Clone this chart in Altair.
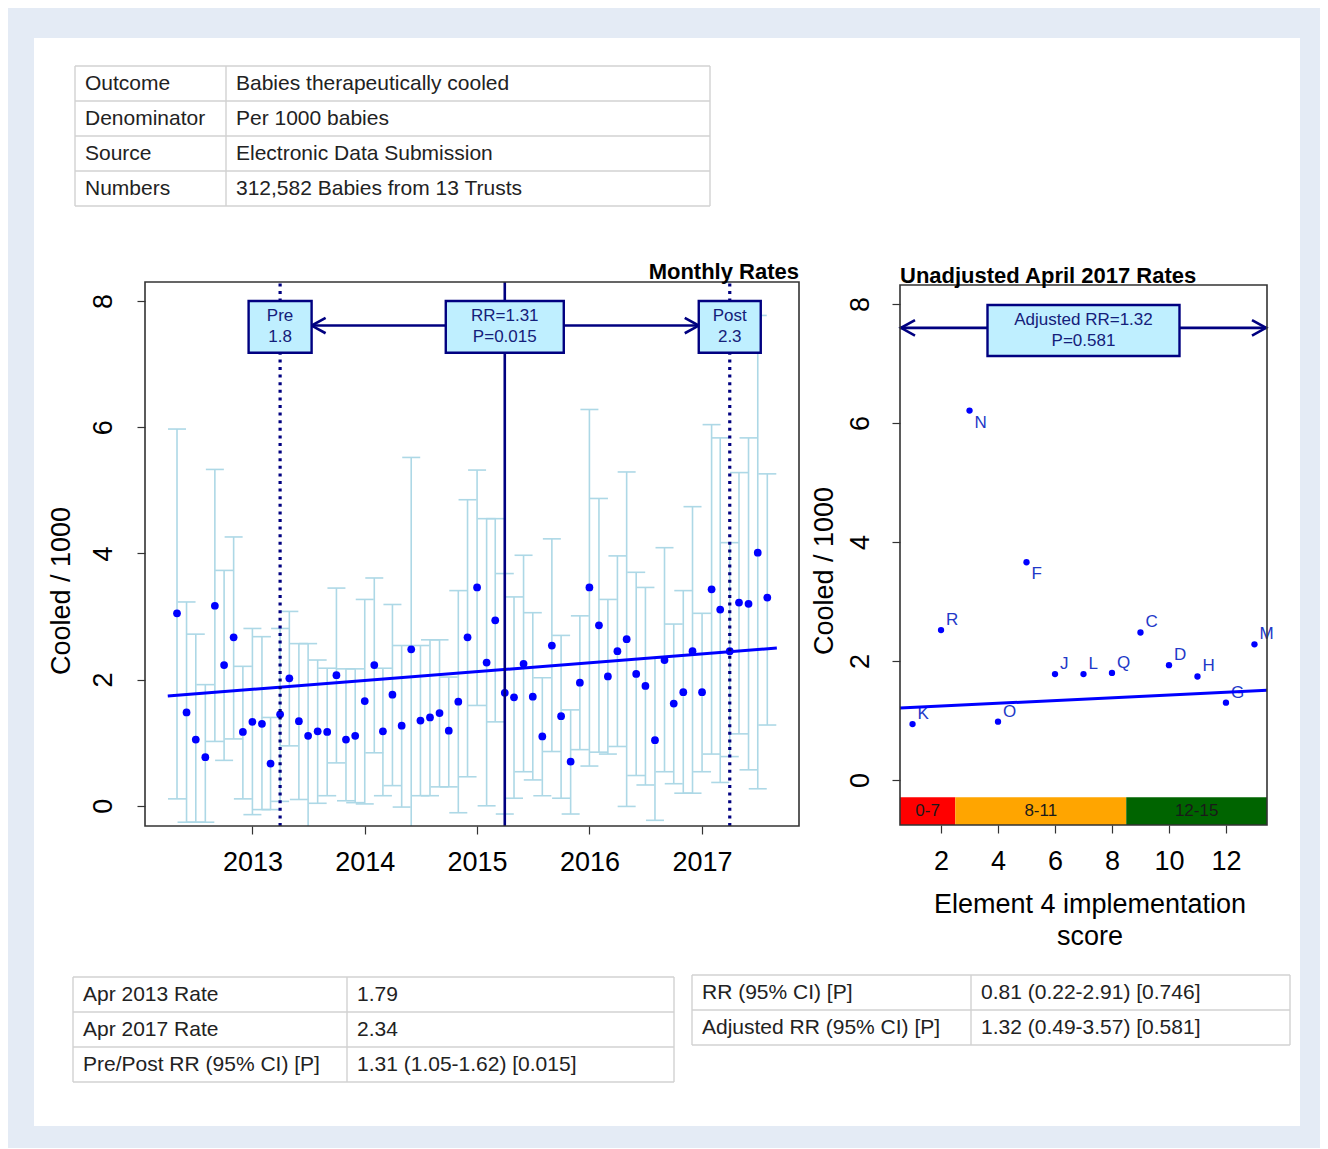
import altair as alt
import pandas as pd

# ---------------- data ----------------
months = []
_y, _m = 2012, 5
for _ in range(64):
    months.append(f"{_y}-{_m:02d}-01")
    _m += 1
    if _m > 12:
        _m, _y = 1, _y + 1

rate = [3.05, 1.48, 1.05, 0.77, 3.17, 2.23, 2.67, 1.17, 1.33, 1.30, 0.67, 1.45,
        2.02, 1.34, 1.11, 1.18, 1.17, 2.07, 1.05, 1.11, 1.66, 2.23, 1.18, 1.76,
        1.27, 2.48, 1.35, 1.40, 1.47, 1.19, 1.65, 2.67, 3.46, 2.27, 2.94, 1.79,
        1.72, 2.25, 1.73, 1.10, 2.54, 1.42, 0.70, 1.95, 3.46, 2.86, 2.05, 2.45,
        2.64, 2.09, 1.90, 1.04, 2.31, 1.62, 1.80, 2.45, 1.80, 3.43, 3.11, 2.45,
        3.22, 3.20, 4.01, 3.30]
upper = [5.97, 3.23, 2.72, 1.92, 5.33, 3.73, 4.26, 2.21, 2.81, 2.68, 1.40, 2.81,
         3.08, 2.57, 2.57, 2.31, 2.18, 3.45, 2.17, 2.17, 3.27, 3.61, 2.18, 3.19,
         2.54, 5.52, 2.54, 2.63, 2.63, 2.04, 3.41, 4.85, 5.32, 4.55, 4.55, 3.68,
         3.31, 3.97, 3.06, 2.03, 4.23, 2.70, 1.52, 3.01, 6.28, 4.87, 3.27, 3.96,
         5.29, 3.70, 3.46, 2.34, 4.09, 2.88, 3.41, 4.74, 3.05, 6.04, 5.83, 4.17,
         5.28, 5.83, 7.77, 5.26]
lower = [0.11, -0.26, -0.26, -0.26, 1.02, 0.72, 1.06, 0.11, -0.14, -0.06, -0.06, 0.07,
         0.95, 0.10, -0.32, 0.04, 0.16, 0.68, 0.08, 0.05, 0.03, 0.84, 0.16, 0.32,
         -0.02, -0.32, 0.16, 0.16, 0.30, 0.30, -0.11, 0.46, 1.59, 0.00, 1.33, -0.13,
         0.12, 0.54, 0.41, 0.16, 0.86, 0.12, -0.13, 0.89, 0.63, 0.85, 0.82, 0.94,
         -0.01, 0.48, 0.33, -0.23, 0.54, 0.35, 0.20, 0.20, 0.54, 0.82, 0.37, 0.78,
         1.14, 0.57, 0.27, 1.28]

trend_dates = ["2012-04-01", "2017-09-01"]
trend_rates = [1.74, 2.50]

event_names = ["Pre", "RR", "Post"]
event_dates = ["2013-04-01", "2015-04-01", "2017-04-01"]
event_text = ["Pre\n1.8", "RR=1.31\nP=0.015", "Post\n2.3"]

score = [1, 2, 3, 4, 5, 6, 7, 8, 9, 10, 11, 12, 13]
trust = ["K", "R", "N", "O", "F", "J", "L", "Q", "C", "D", "H", "G", "M"]
trust_rate = [0.94, 2.52, 6.21, 0.98, 3.66, 1.78, 1.78, 1.80, 2.48, 1.93, 1.74, 1.30, 2.28]
labels_below = ["N", "F"]
score_trend_x = [0.56, 13.44]
score_trend_y = [1.21, 1.51]
adj_text = "Adjusted RR=1.32\nP=0.581"

band_labels = ["0-7", "8-11", "12-15"]
band_from = [0.56, 2.5, 8.5]
band_to = [2.5, 8.5, 13.44]
band_colors = ["#ff0000", "#ffa500", "#006400"]

table_top = [("Outcome", "Babies therapeutically  cooled"),
             ("Denominator", "Per 1000 babies"),
             ("Source", "Electronic Data Submission"),
             ("Numbers", "312,582  Babies from 13 Trusts")]
table_bl = [("Apr 2013 Rate", "1.79"),
            ("Apr 2017 Rate", "2.34"),
            ("Pre/Post RR (95% CI) [P]", "1.31 (1.05-1.62) [0.015]")]
table_br = [("RR  (95% CI) [P]", "0.81 (0.22-2.91) [0.746]"),
            ("Adjusted  RR (95% CI) [P]", "1.32 (0.49-3.57) [0.581]")]

# ---------------- style / layout ----------------
W, H = 1266, 1088
FONT = "Liberation Sans"
NAVY = "#000080"
NAVYTXT = "#14207a"
BOXFILL = "#bfefff"
LB = "#add8e6"
BLUE = "#0000ff"
FRAME = "#333333"
GRID = "#d2d2d2"
TXT = "#222222"
CHEV_L = "M1,-0.55L0,0L1,0.55"
CHEV_R = "M-1,-0.55L0,0L-1,0.55"

L_X = ("2012-01-18", "2017-11-12")
L_Y = (-0.32, 8.30)
R_X = (0.56, 13.44)
R_Y = (-0.756, 8.32)


def dt(s):
    y, m, d = map(int, s.split("-"))
    return alt.DateTime(year=y, month=m, date=d, utc=True)


lx = alt.Scale(type="utc", domain=[dt(L_X[0]), dt(L_X[1])], range=[111, 765], nice=False)
ly = alt.Scale(domain=list(L_Y), range=[788, 244], nice=False, zero=False, clamp=True)
rx = alt.Scale(domain=list(R_X), range=[866, 1233], nice=False, zero=False)
ry = alt.Scale(domain=list(R_Y), range=[787, 247], nice=False, zero=False, clamp=True)

axis_common = dict(domain=False, grid=False, tickSize=8, tickColor=FRAME, tickWidth=1.2,
                   labelFont=FONT, labelFontSize=27, labelColor="black", title=None)
lx_axis = alt.Axis(orient="bottom", offset=-300,
                   values=[alt.DateTime(year=y, month=1, date=1, utc=True) for y in range(2013, 2018)],
                   labelExpr="utcFormat(datum.value, '%Y')", labelPadding=15, **axis_common)
ly_axis = alt.Axis(orient="left", offset=-111, values=[0, 2, 4, 6, 8], labelAngle=270,
                   labelAlign="center", labelBaseline="bottom", labelPadding=20, **axis_common)
rx_axis = alt.Axis(orient="bottom", offset=-301, values=[2, 4, 6, 8, 10, 12],
                   labelPadding=15, **axis_common)
ry_axis = alt.Axis(orient="left", offset=-866, values=[0, 2, 4, 6, 8], labelAngle=270,
                   labelAlign="center", labelBaseline="bottom", labelPadding=18, **axis_common)


def LX(f):
    return alt.X(f, type="temporal", scale=lx, axis=lx_axis)


def LY(f):
    return alt.Y(f, type="quantitative", scale=ly, axis=ly_axis)


def RX(f):
    return alt.X(f, type="quantitative", scale=rx, axis=rx_axis)


def RY(f):
    return alt.Y(f, type="quantitative", scale=ry, axis=ry_axis)


# ---------------- left plot ----------------
ldf = pd.DataFrame({"month": months, "rate": rate, "lo": lower, "hi": upper})

errs = alt.Chart(ldf).mark_rule(color=LB, strokeWidth=1.6).encode(
    x=LX("month"), y=LY("lo"), y2="hi:Q")
cap_hi = alt.Chart(ldf).mark_tick(orient="horizontal", size=18, thickness=1.6, color=LB, opacity=1).encode(
    x=LX("month"), y=LY("hi"))
cap_lo = alt.Chart(ldf).transform_filter("datum.lo > -0.31").mark_tick(
    orient="horizontal", size=18, thickness=1.6, color=LB, opacity=1).encode(
    x=LX("month"), y=LY("lo"))
pts = alt.Chart(ldf).mark_circle(size=60, color=BLUE, opacity=1).encode(
    x=LX("month"), y=LY("rate"))

tdf = pd.DataFrame({"month": trend_dates, "rate": trend_rates})
trend = alt.Chart(tdf).mark_line(color=BLUE, strokeWidth=3).encode(
    x=LX("month"), y=LY("rate"))

edf = pd.DataFrame({"name": event_names, "date": event_dates, "text": event_text,
                    "y0": [L_Y[0]] * 3, "y1": [L_Y[1]] * 3})
dotted = alt.Chart(edf).transform_filter("datum.name != 'RR'").mark_rule(
    color=NAVY, strokeWidth=3.2, strokeDash=[3, 4.6]).encode(
    x=LX("date"), y=LY("y0"), y2="y1:Q")
solid = alt.Chart(edf).transform_filter("datum.name == 'RR'").mark_rule(
    color=NAVY, strokeWidth=2.6).encode(
    x=LX("date"), y=LY("y0"), y2="y1:Q")

adf = pd.DataFrame({"a": [event_dates[0]], "b": [event_dates[2]], "y": [7.61]})
arrow_line = alt.Chart(adf).mark_rule(color=NAVY, strokeWidth=2.6, xOffset=31.5, x2Offset=-31).encode(
    x=LX("a"), x2="b:T", y=LY("y"))
head_l = alt.Chart(adf).mark_point(shape=CHEV_L, size=784, filled=False, stroke=NAVY, strokeWidth=2.6,
                                   opacity=1, xOffset=31.5).encode(x=LX("a"), y=LY("y"))
head_r = alt.Chart(adf).mark_point(shape=CHEV_R, size=784, filled=False, stroke=NAVY, strokeWidth=2.6,
                                   opacity=1, xOffset=-31).encode(x=LX("b"), y=LY("y"))


def event_box(i, half):
    d = edf.iloc[[i]].assign(b0=7.18, b1=8.0, bc=7.59)
    rect = alt.Chart(d).mark_rect(fill=BOXFILL, stroke=NAVY, strokeWidth=2.4,
                                  xOffset=-half, x2Offset=half).encode(
        x=LX("date"), x2="date:T", y=LY("b0"), y2="b1:Q")
    txt = alt.Chart(d).mark_text(lineBreak="\n", lineHeight=21, font=FONT, fontSize=17, dy=-10.5,
                                 color=NAVYTXT, baseline="middle", align="center").encode(
        x=LX("date"), y=LY("bc"), text="text:N")
    return [rect, txt]


lframe_df = pd.DataFrame({"x0": [L_X[0]], "x1": [L_X[1]], "y0": [L_Y[0]], "y1": [L_Y[1]]})
lframe = alt.Chart(lframe_df).mark_rect(filled=False, stroke=FRAME, strokeWidth=1.6).encode(
    x=LX("x0"), x2="x1:T", y=LY("y0"), y2="y1:Q")

left = alt.layer(errs, cap_hi, cap_lo, pts, trend, dotted, solid, arrow_line, head_l, head_r,
                 *event_box(0, 31.5), *event_box(1, 59), *event_box(2, 31), lframe)

# ---------------- right plot ----------------
bdf = pd.DataFrame({"label": band_labels, "x0": band_from, "x1": band_to,
                    "xc": [(a + b) / 2 for a, b in zip(band_from, band_to)],
                    "y0": [R_Y[0]] * 3, "y1": [-0.29] * 3, "yc": [-0.52] * 3})
bands = alt.Chart(bdf).mark_rect().encode(
    x=RX("x0"), x2="x1:Q", y=RY("y0"), y2="y1:Q",
    color=alt.Color("label:N", scale=alt.Scale(domain=band_labels, range=band_colors), legend=None))
band_txt = alt.Chart(bdf).mark_text(font=FONT, fontSize=17, color="#1a1a1a", baseline="middle").encode(
    x=RX("xc"), y=RY("yc"), text="label:N")

rdf = pd.DataFrame({"score": score, "rate": trust_rate, "trust": trust})
rpts = alt.Chart(rdf).mark_circle(size=40, color=BLUE, opacity=1).encode(x=RX("score"), y=RY("rate"))
below_expr = "indexof(" + str(labels_below).replace("'", '"') + ", datum.trust) >= 0"
lab_above = alt.Chart(rdf).transform_filter("!(" + below_expr + ")").mark_text(
    align="left", baseline="middle", dx=5, dy=-10, font=FONT, fontSize=17, color="#2238c8").encode(
    x=RX("score"), y=RY("rate"), text="trust:N")
lab_below = alt.Chart(rdf).transform_filter(below_expr).mark_text(
    align="left", baseline="middle", dx=5, dy=12, font=FONT, fontSize=17, color="#2238c8").encode(
    x=RX("score"), y=RY("rate"), text="trust:N")

rtdf = pd.DataFrame({"score": score_trend_x, "rate": score_trend_y})
rtrend = alt.Chart(rtdf).mark_line(color=BLUE, strokeWidth=3).encode(x=RX("score"), y=RY("rate"))

radf = pd.DataFrame({"a": [R_X[0]], "b": [R_X[1]], "y": [7.60], "c": [7.0],
                     "b0": [7.126], "b1": [7.983], "bc": [7.555], "text": [adj_text]})
r_line = alt.Chart(radf).mark_rule(color=NAVY, strokeWidth=2.6).encode(
    x=RX("a"), x2="b:Q", y=RY("y"))
r_head_l = alt.Chart(radf).mark_point(shape=CHEV_L, size=784, filled=False, stroke=NAVY,
                                      strokeWidth=2.6, opacity=1, xOffset=1).encode(x=RX("a"), y=RY("y"))
r_head_r = alt.Chart(radf).mark_point(shape=CHEV_R, size=784, filled=False, stroke=NAVY,
                                      strokeWidth=2.6, opacity=1, xOffset=-1).encode(x=RX("b"), y=RY("y"))
r_box = alt.Chart(radf).mark_rect(fill=BOXFILL, stroke=NAVY, strokeWidth=2.4, xOffset=-96, x2Offset=96).encode(
    x=RX("c"), x2="c:Q", y=RY("b0"), y2="b1:Q")
r_txt = alt.Chart(radf).mark_text(lineBreak="\n", lineHeight=21, font=FONT, fontSize=17, dy=-10.5,
                                  color=NAVYTXT, baseline="middle", align="center").encode(
    x=RX("c"), y=RY("bc"), text="text:N")

rframe_df = pd.DataFrame({"x0": [R_X[0]], "x1": [R_X[1]], "y0": [R_Y[0]], "y1": [R_Y[1]]})
rframe = alt.Chart(rframe_df).mark_rect(filled=False, stroke=FRAME, strokeWidth=1.6).encode(
    x=RX("x0"), x2="x1:Q", y=RY("y0"), y2="y1:Q")

right = alt.layer(bands, band_txt, rpts, lab_above, lab_below, rtrend, r_line, r_head_l, r_head_r,
                  r_box, r_txt, rframe)


# ---------------- free text ----------------
def label(text, x, y, size, angle=0, bold=False, align="center", lh=None):
    kw = dict(font=FONT, fontSize=size, color="black", align=align, baseline="middle", angle=angle,
              fontWeight="bold" if bold else "normal")
    if lh:
        kw.update(lineBreak="\n", lineHeight=lh)
    return alt.Chart(pd.DataFrame({"t": [text]})).mark_text(**kw).encode(
        text="t:N", x=alt.value(x), y=alt.value(y))


texts = alt.layer(
    label("Cooled / 1000", 28, 553, 27, angle=270),
    label("Cooled / 1000", 791, 533, 27, angle=270),
    label("Element 4 implementation\nscore", 1056, 867, 27, lh=32),
    label("Monthly Rates", 765, 234, 22, bold=True, align="right"),
    label("Unadjusted April 2017 Rates", 866, 238, 22, bold=True, align="left"),
)


# ---------------- tables ----------------
def table(rows, x0, x1, xdiv, y0, rh, fs):
    n = len(rows)
    ys = alt.Scale(domain=[0, n], range=[y0, y0 + n * rh], nice=False, zero=False)
    df = pd.DataFrame({"r": [i + 0.5 for i in range(n)],
                       "a": [r[0] for r in rows], "b": [r[1] for r in rows]})
    hl = alt.Chart(pd.DataFrame({"r": list(range(n + 1))})).mark_rule(color=GRID, strokeWidth=1.4).encode(
        y=alt.Y("r:Q", scale=ys, axis=None), x=alt.value(x0), x2=alt.value(x1))
    vls = [alt.Chart(pd.DataFrame({"r": [0], "r2": [n]})).mark_rule(color=GRID, strokeWidth=1.4).encode(
        x=alt.value(xv), y=alt.Y("r:Q", scale=ys, axis=None), y2="r2:Q") for xv in (x0, xdiv, x1)]
    ta = alt.Chart(df).mark_text(align="left", baseline="middle", font=FONT, fontSize=fs, color=TXT).encode(
        y=alt.Y("r:Q", scale=ys, axis=None), x=alt.value(x0 + 10), text="a:N")
    tb = alt.Chart(df).mark_text(align="left", baseline="middle", font=FONT, fontSize=fs, color=TXT).encode(
        y=alt.Y("r:Q", scale=ys, axis=None), x=alt.value(xdiv + 10), text="b:N")
    return alt.layer(hl, *vls, ta, tb)


t1 = table(table_top, 41, 676, 192, 28, 35, 21)
t2 = table(table_bl, 39, 640, 313, 939, 35, 21)
t3 = table(table_br, 658, 1256, 937, 937, 35, 21)

chart = alt.layer(left, right, t1, t2, t3, texts).resolve_scale(
    x="independent", y="independent", color="independent"
).properties(
    width=W, height=H,
    padding={"left": 26, "top": 30, "right": 20, "bottom": 22},
    background="#e4ebf5",
).configure_view(stroke=None, fill="white")

chart.save("out.html", embed_options={"renderer": "svg", "actions": False})
